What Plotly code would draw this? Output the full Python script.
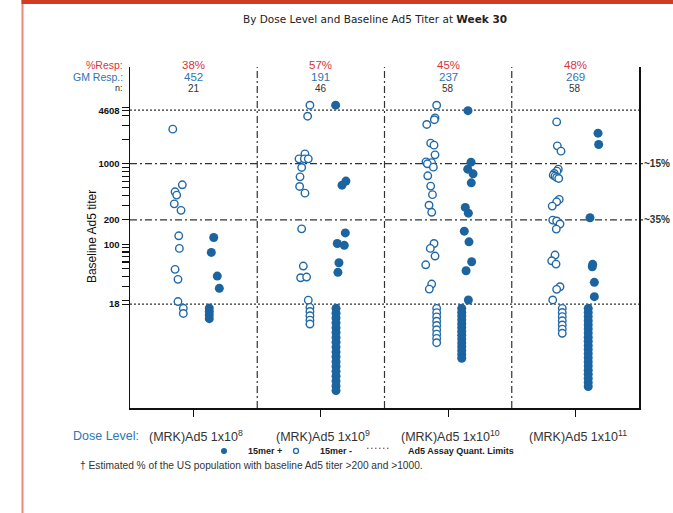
import math
import plotly.graph_objects as go

# ---------------- data ----------------
dose_labels = ["(MRK)Ad5 1x10<sup>8</sup>", "(MRK)Ad5 1x10<sup>9</sup>",
               "(MRK)Ad5 1x10<sup>10</sup>", "(MRK)Ad5 1x10<sup>11</sup>"]
pct_resp = ["38%", "57%", "45%", "48%"]
gm_resp = ["452", "191", "237", "269"]
n_subj = ["21", "46", "58", "58"]

# 15mer - (open circles): baseline Ad5 titer per dose group
neg_d1 = [2680, 546, 447, 407, 317, 263, 127, 88.7, 48.7, 36.6, 19.4, 16.0, 13.8]
neg_d2 = [5320, 3885, 1324, 1147, 1147, 1147, 897, 686, 521, 430, 155, 53.5, 38.3, 39.1, 20.2,
          16.4, 14.6, 12.9, 11.4, 10.2]
neg_d3 = [5320, 3700, 3515, 3065, 1797, 1697, 1286, 1053, 1029, 995, 905, 706, 526, 412, 305, 249,
          102, 88.7, 71.2, 55.5, 32.0, 27.7,
          15.98, 14.13, 12.50, 11.05, 9.78, 8.65, 7.64, 6.76, 5.98]
neg_d4 = [3300, 1663, 1429, 855, 807, 755, 720, 700, 674, 655, 360, 336, 297, 199, 194, 178, 154,
          73.3, 62.2, 56.6, 29.6, 27.5, 20.3,
          15.98, 14.17, 12.60, 11.18, 9.92, 8.82, 7.82]

# 15mer + (filled circles)
pos_d1 = [121, 79.1, 40.2, 28.3, 16.1, 14.6, 13.2, 11.9]
pos_d2 = [5320, 607, 541, 138, 102, 96.7, 58.8, 44.7,
          15.98, 13.91, 12.11, 10.56, 9.18, 8.00, 6.96, 6.07, 5.28, 4.60, 4.00, 3.48, 3.03, 2.64,
          2.30, 2.00, 1.74, 1.52]
pos_d3 = [4545, 1044, 855, 747, 578, 286, 243, 145, 107, 60.5, 46.8, 20.3,
          15.98, 14.31, 12.82, 11.50, 10.29, 9.23, 8.26, 7.41, 6.63, 5.95, 5.32, 4.77, 4.27, 3.83]
pos_d4 = [2390, 1730, 213, 56.2, 52.4, 33.6, 22.3,
          15.98, 14.21, 12.63, 11.23, 9.98, 8.87, 7.88, 7.01, 6.23, 5.54, 4.92, 4.38, 3.89, 3.46,
          3.07, 2.73, 2.43, 2.16, 1.92, 1.71, 1.52]

# horizontal jitter (in dose-group units)
neg_j1 = [-0.164, -0.089, -0.146, -0.133, -0.152, -0.099, -0.117, -0.112, -0.146, -0.123, -0.123,
          -0.081, -0.081]
neg_j2 = [-0.086, -0.104, -0.125, -0.172, -0.130, -0.099, -0.151, -0.164, -0.167, -0.125, -0.151,
          -0.138, -0.159, -0.112, -0.099, -0.086, -0.086, -0.086, -0.086, -0.086]
neg_j3 = [-0.090, -0.103, -0.108, -0.168, -0.137, -0.111, -0.103, -0.174, -0.130, -0.163, -0.116,
          -0.160, -0.137, -0.123, -0.150, -0.129, -0.111, -0.140, -0.103, -0.176, -0.129, -0.148,
          -0.090, -0.090, -0.090, -0.090, -0.090, -0.090, -0.090, -0.090, -0.090]
neg_j4 = [-0.147, -0.142, -0.113, -0.134, -0.145, -0.166, -0.174, -0.160, -0.147, -0.131, -0.127,
          -0.147, -0.182, -0.178, -0.147, -0.121, -0.150, -0.160, -0.186, -0.152, -0.121, -0.147,
          -0.178, -0.103, -0.103, -0.103, -0.103, -0.103, -0.103, -0.103]
pos_j1 = [0.158, 0.139, 0.186, 0.202, 0.123, 0.123, 0.123, 0.123]
pos_j2 = [0.116, 0.197, 0.166, 0.192, 0.129, 0.184, 0.142, 0.134,
          0.119, 0.119, 0.119, 0.119, 0.119, 0.119, 0.119, 0.119, 0.119, 0.119, 0.119, 0.119,
          0.119, 0.119, 0.119, 0.119, 0.119, 0.119]
pos_j3 = [0.156, 0.180, 0.154, 0.196, 0.182, 0.135, 0.159, 0.127, 0.164, 0.185, 0.141, 0.159,
          0.107, 0.107, 0.107, 0.107, 0.107, 0.107, 0.107, 0.107, 0.107, 0.107, 0.107, 0.107,
          0.107, 0.107]
pos_j4 = [0.178, 0.183, 0.115, 0.136, 0.133, 0.149, 0.149,
          0.101, 0.101, 0.101, 0.101, 0.101, 0.101, 0.101, 0.101, 0.101, 0.101, 0.101, 0.101,
          0.101, 0.101, 0.101, 0.101, 0.101, 0.101, 0.101, 0.101]

neg_groups = [neg_d1, neg_d2, neg_d3, neg_d4]
pos_groups = [pos_d1, pos_d2, pos_d3, pos_d4]
neg_jit = [neg_j1, neg_j2, neg_j3, neg_j4]
pos_jit = [pos_j1, pos_j2, pos_j3, pos_j4]

quant_limits = [18, 4608]
pop_levels = [1000, 200]
pop_pct = ["~15%", "~35%"]

y_ticks_labeled = [18, 100, 200, 1000, 4608]
y_ticks_minor = [20, 30, 40, 50, 60, 70, 80, 90, 300, 400, 500, 600, 700, 800, 900,
                 2000, 3000, 4000, 5000]

# ---------------- styles ----------------
BLUE = "#1b64a0"
OPEN_BLUE = "#2169a6"
RED = "#d8343e"
LBLUE = "#2f74b5"
FONT = "Liberation Sans, Arial, sans-serif"

fig = go.Figure()

nx, ny = [], []
for i, (vals, jit) in enumerate(zip(neg_groups, neg_jit)):
    nx += [i + 1 + j for j in jit]
    ny += vals
px_, py_ = [], []
for i, (vals, jit) in enumerate(zip(pos_groups, pos_jit)):
    px_ += [i + 1 + j for j in jit]
    py_ += vals

fig.add_trace(go.Scatter(x=nx, y=ny, mode="markers", name="15mer -", showlegend=False,
                         hoverinfo="skip",
                         marker=dict(size=7.5, color="white",
                                     line=dict(color=OPEN_BLUE, width=1.4))))
fig.add_trace(go.Scatter(x=px_, y=py_, mode="markers", name="15mer +", showlegend=False,
                         hoverinfo="skip",
                         marker=dict(size=9, color=BLUE, line=dict(width=0))))

# reference lines
for v in quant_limits:
    fig.add_shape(type="line", xref="paper", yref="y", x0=0, x1=1.006, y0=v, y1=v,
                  line=dict(color="#333333", width=1.3, dash="2px,2px"), layer="below")
for v, lab in zip(pop_levels, pop_pct):
    fig.add_shape(type="line", xref="paper", yref="y", x0=0, x1=1.008, y0=v, y1=v,
                  line=dict(color="#333333", width=1.2, dash="7px,3px,2px,3px"), layer="below")
    fig.add_annotation(xref="paper", yref="y", x=1.006, y=math.log10(v), text="<b>" + lab + "</b>",
                       showarrow=False, xanchor="left", yanchor="middle",
                       font=dict(family=FONT, size=10, color="#333333"))
for k in range(1, len(dose_labels)):
    fig.add_shape(type="line", xref="x", yref="paper", x0=k + 0.5, x1=k + 0.5, y0=0, y1=1,
                  line=dict(color="#333333", width=1.2, dash="7px,3px,2px,3px"), layer="below")

# header rows
hdr_y = [1.007, 0.972, 0.937]
for lab, col, yy, sz in [("%Resp:", RED, hdr_y[0], 10.5), ("GM Resp.:", LBLUE, hdr_y[1], 10.5),
                         ("n:", "#222222", hdr_y[2], 9)]:
    fig.add_annotation(xref="paper", yref="paper", x=-0.01, y=yy, text=lab, showarrow=False,
                       xanchor="right", yanchor="middle", font=dict(family=FONT, size=sz, color=col))
for i in range(len(dose_labels)):
    fig.add_annotation(xref="x", yref="paper", x=i + 1, y=hdr_y[0], text=pct_resp[i], showarrow=False,
                       yanchor="middle", font=dict(family=FONT, size=11.5, color=RED))
    fig.add_annotation(xref="x", yref="paper", x=i + 1, y=hdr_y[1], text=gm_resp[i], showarrow=False,
                       yanchor="middle", font=dict(family=FONT, size=11.5, color=LBLUE))
    fig.add_annotation(xref="x", yref="paper", x=i + 1, y=hdr_y[2], text=n_subj[i], showarrow=False,
                       yanchor="middle", font=dict(family=FONT, size=10, color="#333333"))
    fig.add_annotation(xref="x", yref="paper", x=i + 1 + 0.02, y=-0.082, text=dose_labels[i],
                       showarrow=False, yanchor="middle",
                       font=dict(family=FONT, size=12.5, color="#333333"))

fig.add_annotation(xref="paper", yref="paper", x=0.022, y=-0.082, text="Dose Level:",
                   showarrow=False, xanchor="right", yanchor="middle",
                   font=dict(family=FONT, size=12.5, color=LBLUE))

# title
fig.add_annotation(xref="paper", yref="paper", x=0.481, y=1.141,
                   text="By Dose Level and Baseline Ad5 Titer at <b>Week 30</b>",
                   showarrow=False, yanchor="middle",
                   font=dict(family="DejaVu Sans, Verdana, sans-serif", size=10.5, color="#222222"))

# y title
fig.add_annotation(xref="paper", yref="paper", x=-0.0747, y=0.504, text="Baseline Ad5 titer",
                   textangle=-90, showarrow=False, xanchor="center", yanchor="middle",
                   font=dict(family=FONT, size=12, color="#111111"))

# legend row (custom)
leg_y = -0.126
def pxx(p):
    return (p - 130) / 509.0
fig.add_shape(type="circle", xref="paper", yref="paper", xsizemode="pixel", ysizemode="pixel",
              xanchor=pxx(224), yanchor=leg_y, x0=-3, x1=3, y0=-3, y1=3,
              fillcolor=BLUE, line=dict(color=BLUE, width=0))
fig.add_annotation(xref="paper", yref="paper", x=pxx(246), y=leg_y, text="<b>15mer +</b>",
                   showarrow=False, xanchor="left", yanchor="middle",
                   font=dict(family=FONT, size=9, color="#222222"))
fig.add_shape(type="circle", xref="paper", yref="paper", xsizemode="pixel", ysizemode="pixel",
              xanchor=pxx(296), yanchor=leg_y, x0=-2.5, x1=2.5, y0=-2.5, y1=2.5,
              fillcolor="white", line=dict(color=OPEN_BLUE, width=1.3))
fig.add_annotation(xref="paper", yref="paper", x=pxx(318), y=leg_y, text="<b>15mer -</b>",
                   showarrow=False, xanchor="left", yanchor="middle",
                   font=dict(family=FONT, size=9, color="#222222"))
fig.add_shape(type="line", xref="paper", yref="paper", x0=pxx(367), x1=pxx(390),
              y0=leg_y + 0.008, y1=leg_y + 0.008,
              line=dict(color="#444444", width=1, dash="1.5px,2.5px"))
fig.add_annotation(xref="paper", yref="paper", x=pxx(406), y=leg_y, text="<b>Ad5 Assay Quant. Limits</b>",
                   showarrow=False, xanchor="left", yanchor="middle",
                   font=dict(family=FONT, size=9, color="#222222"))

# footnote
fig.add_annotation(xref="paper", yref="paper", x=pxx(78), y=-0.170,
                   text="\u2020 Estimated % of the US population with baseline Ad5 titer >200 and >1000.",
                   showarrow=False, xanchor="left", yanchor="middle",
                   font=dict(family=FONT, size=10.2, color="#333333"))

# page frame (red border of the source page)
fig.add_shape(type="line", xref="paper", yref="paper", x0=pxx(22.5), x1=pxx(22.5),
              y0=(408 - 520) / 341.0, y1=(408 + 5) / 341.0,
              line=dict(color="#e8897c", width=2))
fig.add_shape(type="rect", xref="paper", yref="paper", x0=pxx(21.5), x1=pxx(680),
              y0=(408 - 4) / 341.0, y1=(408 + 5) / 341.0,
              fillcolor="#d23c22", line=dict(width=0))

tickvals = sorted(y_ticks_labeled + y_ticks_minor)
ticktext = ["<b>%d</b>" % v if v in y_ticks_labeled else "" for v in tickvals]

fig.update_layout(
    width=673, height=513,
    margin=dict(l=130, r=34, t=67, b=105),
    paper_bgcolor="white", plot_bgcolor="white",
    showlegend=False, hovermode=False,
    xaxis=dict(range=[0.5, 4.5], tickvals=[1, 2, 3, 4], showticklabels=False,
               ticks="outside", ticklen=7, tickwidth=1.2, tickcolor="#111111",
               showline=True, linecolor="#111111", linewidth=1.5,
               showgrid=False, zeroline=False, fixedrange=True),
    yaxis=dict(type="log", range=[-0.034, 4.2], tickvals=tickvals, ticktext=ticktext,
               ticks="outside", ticklen=7, tickwidth=1.1, tickcolor="#111111",
               tickfont=dict(family=FONT, size=9.5, color="#111111"),
               showline=True, linecolor="#111111", linewidth=1.5, mirror=True,
               showgrid=False, zeroline=False, fixedrange=True),
)

fig.write_html("out.html", config={"displayModeBar": False, "staticPlot": True},
               post_script="document.body.style.margin='0';document.body.style.padding='0';")
